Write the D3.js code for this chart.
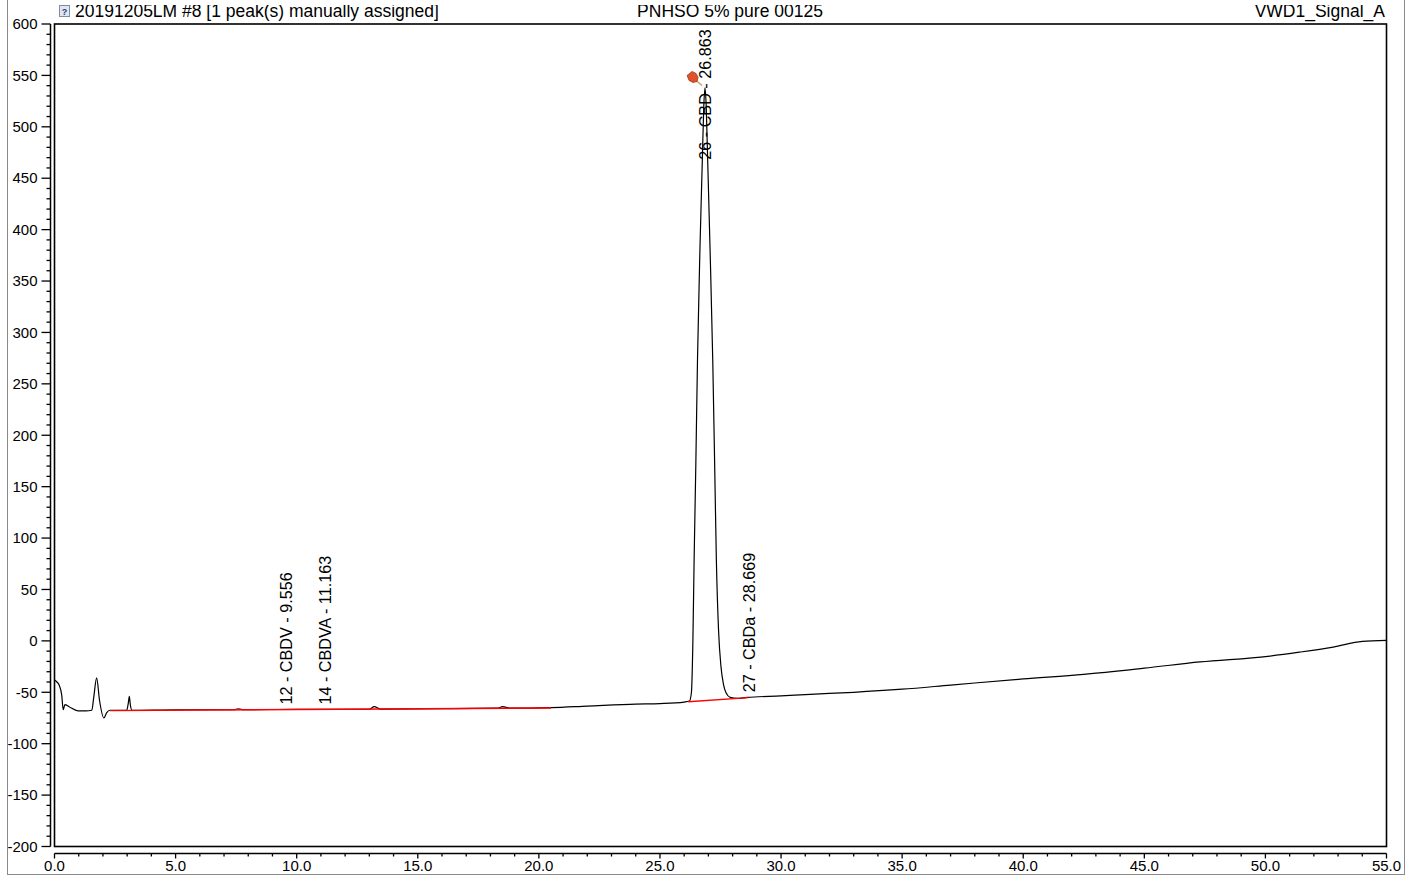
<!DOCTYPE html>
<html>
<head>
<meta charset="utf-8">
<script src="https://cdn.jsdelivr.net/npm/d3@7"></script>
<style>
  body { margin: 0; background: #fff; }
  text { font-family: 'Liberation Sans', Arial, sans-serif; fill: #000; }
</style>
</head>
<body>
<script>
// Chart data (retention time in min, signal in mAU)
const times = [0, 0.1, 0.19, 0.3, 0.36, 0.43, 0.6, 0.97, 1.3, 1.54, 1.62, 1.74, 1.86, 2.04, 2.15, 2.29,
  2.98, 3.05, 3.09, 3.13, 3.2, 5.0, 7.4, 7.6, 7.8, 10.0, 13.0, 13.2, 13.45, 16.0, 18.3, 18.5, 18.8,
  20.5, 22.0, 24.0, 25.0, 26.0, 26.22, 26.3, 26.36, 26.41, 26.48, 26.55, 26.65, 26.75, 26.81, 26.86,
  26.91, 26.97, 27.07, 27.18, 27.26, 27.33, 27.42, 27.52, 27.62, 27.74, 27.9, 28.2, 28.6, 30.0, 31.2,
  33.0, 35.0, 37.0, 40.0, 42.5, 45.0, 47.3, 50.1, 51.4, 52.8, 54.0, 55.0]
const signal = [-38, -40, -43, -53, -67, -62, -64, -68, -68, -67.5, -55, -36, -58, -75, -70, -67.5,
  -67.5, -60, -54, -62, -67.5, -67, -67, -66, -67, -66.5, -66.5, -64, -66.3, -66, -65.5, -64, -65.5,
  -65, -63.5, -61.5, -61, -59.5, -58.5, -50, 0, 78, 170, 273, 380, 468, 520, 538,
  520, 468, 380, 273, 170, 78, 10, -25, -42, -51, -55, -56, -55, -53.5, -52,
  -50, -47, -43, -37, -32.5, -26.5, -20.5, -15, -11, -6, -0.5, 0.5]

// Integration baselines (red)
const baseTimes = [[2.29, 20.5], [26.17, 28.65]]
const baseValues = [[-67.8, -65.3], [-59.2, -55.2]]

// Peak labels
const peakLabels = ['12 - CBDV - 9.556', '14 - CBDVA - 11.163', '26 - CBD - 26.863', '27 - CBDa - 28.669']
const peakTimes = [9.556, 11.163, 26.863, 28.669]
const labelAnchors = [-62, -62, 468, -50]

// Axis ticks
const xMajor = [0, 5, 10, 15, 20, 25, 30, 35, 40, 45, 50, 55]
const yMajor = [-200, -150, -100, -50, 0, 50, 100, 150, 200, 250, 300, 350, 400, 450, 500, 550, 600]

// Header texts
const titleLeft = '20191205LM #8 [1 peak(s) manually assigned]'
const titleCenter = 'PNHSO 5% pure 00125'
const titleRight = 'VWD1_Signal_A'

// Chart settings
const width = 1417
const height = 876
const plotLeft = 54.5
const plotRight = 1386.5
const plotTop = 24
const plotBottom = 846.5

const svg = d3.select('body')
  .append('svg')
  .attr('width', width)
  .attr('height', height)

const xScale = d3.scaleLinear().domain([0, 55]).range([plotLeft, plotRight])
const yScale = d3.scaleLinear().domain([-200, 600]).range([plotBottom, plotTop])

// Outer gray frame
svg.append('rect')
  .attr('x', 7.5)
  .attr('y', -2)
  .attr('width', 1397)
  .attr('height', 876.5)
  .attr('fill', 'none')
  .attr('stroke', '#8a8a8a')
  .attr('stroke-width', 1)

// Header (cut at the top like the window)
svg.append('clipPath')
  .attr('id', 'head-clip')
  .append('rect')
  .attr('x', 0)
  .attr('y', 5)
  .attr('width', width)
  .attr('height', 18)

const head = svg.append('g').attr('clip-path', 'url(#head-clip)')

head.append('rect')
  .attr('x', 59.5)
  .attr('y', 5.5)
  .attr('width', 10)
  .attr('height', 11)
  .attr('fill', '#dde6f2')
  .attr('stroke', '#7d8ca3')
  .attr('stroke-width', 1)
head.append('text')
  .attr('x', 64.5)
  .attr('y', 15)
  .text('?')
  .style('font-size', '9px')
  .style('font-weight', 'bold')
  .style('fill', '#304060')
  .style('text-anchor', 'middle')

head.append('text')
  .attr('x', 75)
  .attr('y', 17)
  .text(titleLeft)
  .style('font-size', '17.5px')
head.append('text')
  .attr('x', 730)
  .attr('y', 17)
  .text(titleCenter)
  .style('font-size', '17.5px')
  .style('text-anchor', 'middle')
head.append('text')
  .attr('x', 1385)
  .attr('y', 17)
  .text(titleRight)
  .style('font-size', '17.5px')
  .style('text-anchor', 'end')

// Y axis
const yAxis = svg.append('g').attr('transform', 'translate(50.5, 0)')
yAxis.append('line')
  .attr('y1', yScale(600))
  .attr('y2', yScale(-200))
  .attr('stroke', '#000')
  .attr('stroke-width', 1.5)
yAxis.selectAll('.minor')
  .data(d3.range(-200, 601, 10))
  .enter()
  .append('line')
  .attr('x1', d => d % 50 === 0 ? -9 : -4)
  .attr('x2', 0)
  .attr('y1', d => yScale(d))
  .attr('y2', d => yScale(d))
  .attr('stroke', '#000')
  .attr('stroke-width', 1.3)
yAxis.selectAll('.lbl')
  .data(yMajor)
  .enter()
  .append('text')
  .attr('x', -13)
  .attr('y', d => yScale(d))
  .attr('dy', '0.35em')
  .text(d => d)
  .style('font-size', '15px')
  .style('text-anchor', 'end')

// X axis
const xAxis = svg.append('g').attr('transform', 'translate(0, 853.5)')
xAxis.append('line')
  .attr('x1', xScale(0))
  .attr('x2', xScale(55))
  .attr('stroke', '#000')
  .attr('stroke-width', 1.5)
xAxis.selectAll('.minor')
  .data(d3.range(0, 56, 1))
  .enter()
  .append('line')
  .attr('x1', d => xScale(d))
  .attr('x2', d => xScale(d))
  .attr('y1', 0)
  .attr('y2', d => d % 5 === 0 ? 5 : 3)
  .attr('stroke', '#000')
  .attr('stroke-width', 1.3)
xAxis.selectAll('.lbl')
  .data(xMajor)
  .enter()
  .append('text')
  .attr('x', d => xScale(d))
  .attr('y', 12)
  .attr('dy', '0.35em')
  .text(d => d.toFixed(1))
  .style('font-size', '15px')
  .style('text-anchor', 'middle')

// Plot frame
svg.append('rect')
  .attr('x', plotLeft)
  .attr('y', plotTop)
  .attr('width', plotRight - plotLeft)
  .attr('height', plotBottom - plotTop)
  .attr('fill', 'none')
  .attr('stroke', '#000')
  .attr('stroke-width', 1.6)

svg.append('clipPath')
  .attr('id', 'plot-clip')
  .append('rect')
  .attr('x', plotLeft)
  .attr('y', plotTop)
  .attr('width', plotRight - plotLeft)
  .attr('height', plotBottom - plotTop)

const plot = svg.append('g').attr('clip-path', 'url(#plot-clip)')

// Chromatogram
const line = d3.line()
  .x(d => xScale(d[0]))
  .y(d => yScale(d[1]))
  .curve(d3.curveMonotoneX)

plot.append('path')
  .datum(times.map((t, i) => [t, signal[i]]))
  .attr('d', line)
  .attr('fill', 'none')
  .attr('stroke', '#000')
  .attr('stroke-width', 1.2)

// Baselines
baseTimes.forEach((ts, i) => {
  plot.append('path')
    .datum(ts.map((t, j) => [t, baseValues[i][j]]))
    .attr('d', d3.line().x(d => xScale(d[0])).y(d => yScale(d[1])))
    .attr('fill', 'none')
    .attr('stroke', '#ff0000')
    .attr('stroke-width', 1.3)
})

// Peak labels
peakLabels.forEach((label, i) => {
  plot.append('text')
    .attr('transform', `translate(${xScale(peakTimes[i])}, ${yScale(labelAnchors[i])}) rotate(-90)`)
    .attr('dy', '0.36em')
    .text(label)
    .style('font-size', '16.2px')
})

// Manual assignment pin
const pin = svg.append('g')
  .attr('transform', `translate(${xScale(peakTimes[2]) - 14}, ${yScale(548)})`)
pin.append('line')
  .attr('x1', 5)
  .attr('y1', 3)
  .attr('x2', 11)
  .attr('y2', 8)
  .attr('stroke', '#c9a060')
  .attr('stroke-width', 1.5)
pin.append('path')
  .attr('d', 'M-4,-2 L1,-6 L5,-4 L7,0 L6,4 L2,5 L-2,3 Z')
  .attr('fill', '#e0522a')
  .attr('stroke', '#a3361a')
  .attr('stroke-width', 0.8)
</script>
</body>
</html>
